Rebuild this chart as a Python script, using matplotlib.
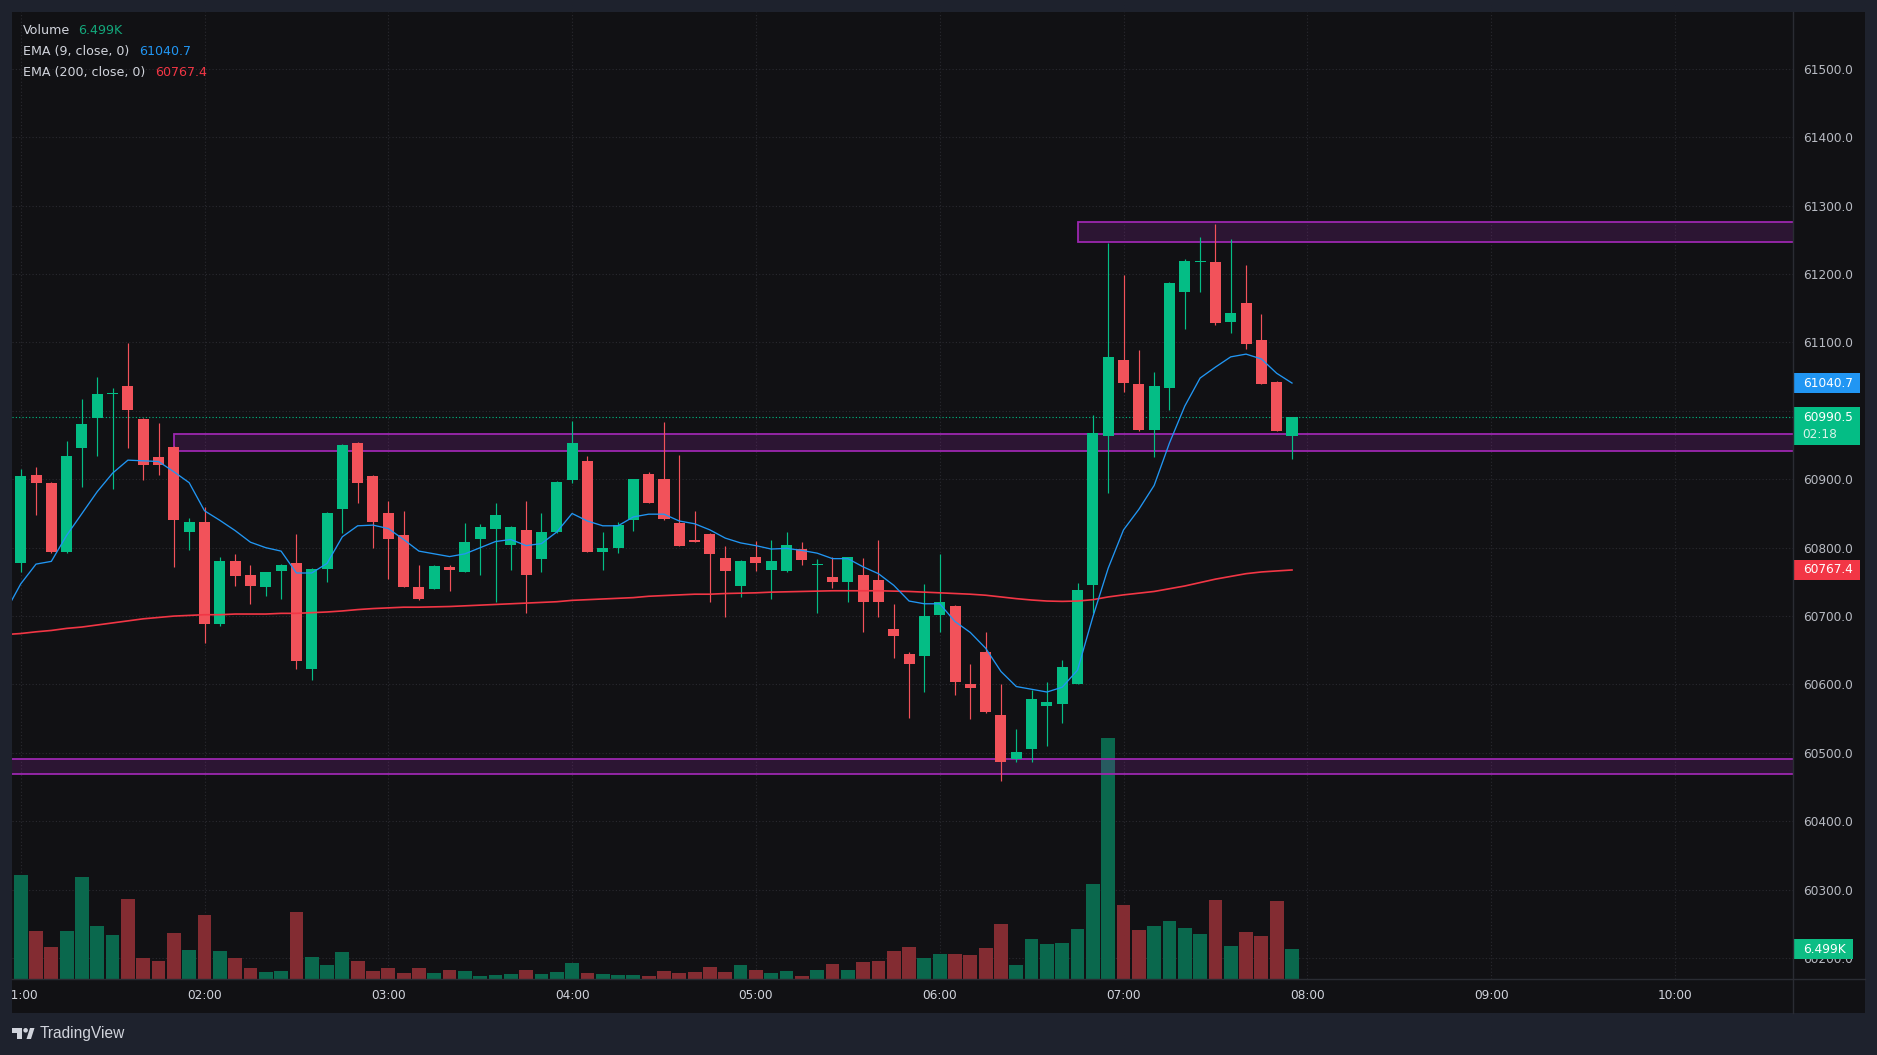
import matplotlib
matplotlib.use("Agg")
import matplotlib.pyplot as plt
import matplotlib.dates as mdates
import matplotlib.transforms as mtransforms
from matplotlib.patches import Rectangle, Polygon, Circle
from matplotlib.lines import Line2D
import pandas as pd

W, H = 1877, 1055

# ---- BTC 5m candles, 01:00 - 07:55 ------------------------------------------
session = "2024-03-06"
opens = [60777, 60906, 60895, 60794, 60946, 60989, 61024, 61036, 60988, 60933,
         60947, 60823, 60838, 60689, 60781, 60760, 60743, 60766, 60778, 60622,
         60769, 60857, 60953, 60905, 60851, 60819, 60743, 60740, 60772, 60765,
         60812, 60828, 60804, 60826, 60784, 60823, 60899, 60927, 60794, 60799,
         60841, 60908, 60900, 60836, 60811, 60820, 60785, 60744, 60786, 60768,
         60766, 60798, 60775, 60757, 60750, 60760, 60753, 60681, 60645, 60641,
         60701, 60715, 60601, 60648, 60555, 60491, 60505, 60569, 60571, 60601,
         60745, 60964, 61074, 61040, 60972, 61034, 61174, 61217, 61218, 61130,
         61158, 61104, 61042, 60964]
highs = [60915, 60918, 60896, 60956, 61018, 61050, 61034, 61099, 60989, 60982,
         60948, 60843, 60859, 60786, 60791, 60775, 60765, 60776, 60820, 60770,
         60852, 60951, 60954, 60906, 60868, 60854, 60775, 60774, 60774, 60836,
         60835, 60865, 60831, 60868, 60851, 60898, 60985, 60934, 60823, 60837,
         60901, 60910, 60984, 60936, 60854, 60822, 60802, 60782, 60810, 60811,
         60823, 60808, 60783, 60786, 60787, 60785, 60811, 60717, 60648, 60747,
         60791, 60716, 60630, 60677, 60601, 60535, 60592, 60604, 60636, 60748,
         60994, 61246, 61199, 61089, 61057, 61189, 61222, 61254, 61273, 61251,
         61213, 61142, 61044, 60991]
lows = [60765, 60848, 60792, 60792, 60888, 60934, 60886, 60946, 60899, 60907,
        60772, 60796, 60661, 60686, 60744, 60717, 60730, 60725, 60623, 60606,
        60750, 60822, 60866, 60800, 60754, 60742, 60724, 60739, 60736, 60764,
        60760, 60720, 60768, 60705, 60764, 60822, 60895, 60793, 60768, 60792,
        60825, 60865, 60841, 60802, 60808, 60720, 60698, 60728, 60766, 60725,
        60765, 60774, 60705, 60741, 60721, 60677, 60698, 60639, 60551, 60589,
        60676, 60585, 60550, 60559, 60459, 60486, 60486, 60510, 60543, 60600,
        60705, 60880, 61028, 60971, 60933, 61002, 61119, 61174, 61125, 61114,
        61091, 61039, 60970, 60930]
closes = [60905, 60894, 60794, 60934, 60981, 61025, 61025, 61002, 60921, 60921,
          60840, 60838, 60689, 60781, 60759, 60744, 60764, 60775, 60635, 60769,
          60851, 60950, 60894, 60838, 60813, 60743, 60725, 60773, 60768, 60808,
          60830, 60848, 60830, 60760, 60823, 60896, 60953, 60794, 60800, 60833,
          60900, 60866, 60842, 60803, 60809, 60791, 60766, 60781, 60777, 60781,
          60804, 60782, 60776, 60750, 60786, 60720, 60720, 60671, 60630, 60700,
          60720, 60604, 60595, 60560, 60486, 60501, 60579, 60574, 60626, 60738,
          60968, 61079, 61041, 60972, 61036, 61187, 61219, 61218, 61128, 61143,
          61098, 61040, 60971, 60990.5]
volumes_k = [22.5, 10.4, 6.9, 10.4, 22.1, 11.5, 9.5, 17.3, 4.5, 3.9,
             10.0, 6.3, 13.9, 6.1, 4.5, 2.4, 1.5, 1.7, 14.5, 4.8,
             3.0, 5.8, 3.9, 1.7, 2.4, 1.3, 2.4, 1.3, 1.9, 1.7,
             0.65, 0.9, 1.1, 1.9, 1.1, 1.5, 3.5, 1.3, 1.1, 0.9,
             0.9, 0.65, 1.7, 1.3, 1.5, 2.6, 1.5, 3.0, 1.9, 1.3,
             1.7, 0.65, 1.9, 3.2, 1.9, 3.7, 3.9, 6.1, 6.9, 4.5,
             5.4, 5.4, 5.2, 6.7, 11.9, 3.0, 8.7, 7.6, 7.8, 10.8,
             20.6, 52.3, 16.0, 10.6, 11.5, 12.6, 11.0, 9.7, 17.1, 7.1,
             10.2, 9.3, 16.9, 6.499]

# indicator values; first entry is the 00:55 bar just left of the window
ema9 = [60706,
        60747, 60776, 60780, 60818, 60850, 60882, 60909, 60928, 60927, 60926,
        60911, 60895, 60854, 60840, 60825, 60808, 60800, 60795, 60763, 60763,
        60777, 60816, 60832, 60833, 60828, 60812, 60795, 60791, 60787, 60791,
        60800, 60809, 60812, 60803, 60806, 60823, 60850, 60839, 60832, 60832,
        60845, 60849, 60849, 60839, 60835, 60826, 60814, 60807, 60803, 60798,
        60799, 60796, 60792, 60784, 60784, 60772, 60762, 60745, 60722, 60718,
        60718, 60692, 60676, 60653, 60619, 60597, 60593, 60589, 60596, 60621,
        60699, 60770, 60826, 60856, 60891, 60953, 61007, 61048, 61064, 61079,
        61083, 61076, 61055, 61040.7]
ema200 = [60673,
          60674.5, 60677, 60679, 60682, 60684, 60687, 60690, 60693, 60696, 60698,
          60700, 60701, 60702, 60702, 60703, 60703, 60703, 60704, 60704, 60705,
          60706, 60707.5, 60709.5, 60711, 60712, 60713, 60713, 60713.5, 60714, 60715,
          60716, 60717, 60718, 60719, 60720, 60721, 60723, 60724, 60725, 60726,
          60727, 60729, 60730, 60731, 60732, 60732, 60733, 60733.5, 60734, 60735,
          60735.5, 60736, 60736.5, 60737, 60737, 60737, 60737, 60736.5, 60736, 60735,
          60734, 60733, 60732, 60730.5, 60728, 60725.5, 60723.5, 60722, 60721.5, 60722,
          60724, 60728, 60731, 60733.5, 60736, 60740, 60744, 60749, 60754, 60758,
          60762, 60764.5, 60766, 60767.4]

# drawn support / resistance boxes
zone_start = ["06:45", "01:50", "00:00"]
zone_low = [61247, 60942, 60469]
zone_high = [61276.5, 60966, 60491.5]

price_ticks = list(range(60200, 61501, 100))
hour_labels = ["01:00", "02:00", "03:00", "04:00", "05:00",
               "06:00", "07:00", "08:00", "09:00", "10:00"]

# ---- colours -----------------------------------------------------------------
FRAME = "#1e222d"
BG = "#111114"
GRID = "#2a2a30"
SEP = "#2a2c33"
TXT = "#b8bbc3"
LEGEND = "#d1d4dc"
UP, DOWN = "#04bd85", "#f2525a"
VUP, VDOWN = "#0a684d", "#832c32"
BLUE, RED = "#2196f3", "#f23645"
ZONE = "#9c27b0"
FS = 8.7
FS_LEG = 9.1

plt.rcParams["font.family"] = ["DejaVu Sans"]

times = pd.date_range(f"{session} 01:00", periods=len(closes), freq="5min")
x = mdates.date2num(times)
step = x[1] - x[0]
x_ema = [x[0] - step] + list(x)
up = [c >= o for o, c in zip(opens, closes)]

fig = plt.figure(figsize=(W / 100, H / 100), dpi=100, facecolor=FRAME)
pix = mtransforms.Affine2D().scale(1 / W, -1 / H).translate(0, 1) + fig.transFigure

panel = Rectangle((12, 12), 1853, 1001, transform=pix, facecolor=BG,
                  edgecolor="none", zorder=-2)
fig.add_artist(panel)

ax_vol = fig.add_axes([12 / W, 1 - 979 / H, 1781 / W, 967 / H])
ax = ax_vol.twinx()
for a in (ax, ax_vol):
    a.set_facecolor("none")
    for s in a.spines.values():
        s.set_visible(False)

ax.set_xlim(x[0] - 0.568 * step, x[0] + 115.71 * step)
ax.set_ylim(60169.4, 61583.2)
ax_vol.set_ylim(0, 209.5)

# grid (kept on the lower axes so volume sits above it)
hour_x = mdates.date2num(pd.to_datetime([f"{session} {h}" for h in hour_labels]))
ax_vol.set_xticks(hour_x)
ax_vol.grid(axis="x", color=GRID, lw=0.8, ls=(0, (1, 2)))
ax_vol.tick_params(axis="x", length=0, labelbottom=False)
ax_vol.set_yticks([])
hz = mtransforms.blended_transform_factory(ax_vol.transAxes, ax.transData)
for p in price_ticks:
    ax_vol.add_line(Line2D([0, 1], [p, p], transform=hz, color=GRID, lw=0.8,
                           ls=(0, (1, 2))))

# volume
ax_vol.bar(x, volumes_k, width=0.9 * step,
           color=[VUP if u else VDOWN for u in up], linewidth=0, zorder=2)

# price axis labels; the one under the last-price tag stays blank
last = closes[-1]
ax.set_yticks(price_ticks)
ax.set_yticklabels(["" if abs(p - last) < 20 else f"{p:.1f}" for p in price_ticks])
ax.tick_params(axis="y", length=0, pad=7.2, labelsize=FS, labelcolor=TXT)
ax.tick_params(axis="x", length=0, bottom=False, labelbottom=False)

# zones
x_right = ax.get_xlim()[1] + step
for t0, lo, hi in zip(zone_start, zone_low, zone_high):
    xs = mdates.date2num(pd.Timestamp(f"{session} {t0}"))
    ax.add_patch(Rectangle((xs, lo), x_right - xs, hi - lo, facecolor=ZONE,
                           alpha=0.2, edgecolor="none", zorder=2))
    ax.add_patch(Rectangle((xs, lo), x_right - xs, hi - lo, facecolor="none",
                           edgecolor=ZONE, lw=1.3, zorder=2.1))

# last price line
ax.axhline(last, color=UP, lw=0.8, ls=(0, (1, 2)), zorder=2.5)

# candles
cols = [UP if u else DOWN for u in up]
ax.vlines(x, lows, highs, colors=cols, lw=0.85, zorder=3)
bodies = [max(abs(c - o), 1.5) for o, c in zip(opens, closes)]
ax.bar(x, bodies, bottom=[min(o, c) for o, c in zip(opens, closes)],
       width=0.72 * step, color=cols, linewidth=0, zorder=4)

# moving averages
ax.plot(x_ema, ema200, color=RED, lw=1.2, zorder=5)
ax.plot(x_ema, ema9, color=BLUE, lw=0.95, zorder=5)


def axis_tag(value, label, color, yaxis, up_px=10.4, down_px=10.4,
             right=1860, sub=None):
    tr = mtransforms.blended_transform_factory(ax.transAxes, yaxis.transData)
    ppu = yaxis.transData.transform((0, 1))[1] - yaxis.transData.transform((0, 0))[1]
    x0 = (1793 - 12) / 1781
    x1 = (right - 12) / 1781
    ax.add_patch(Rectangle((x0, value - down_px / ppu), x1 - x0,
                           (up_px + down_px) / ppu, transform=tr,
                           facecolor=color, edgecolor="none", clip_on=False,
                           zorder=10))
    xt = (1802.7 - 12) / 1781
    ax.text(xt, value, label, transform=tr, color="white", fontsize=FS,
            ha="left", va="center", zorder=11, clip_on=False)
    if sub:
        ax.text(xt, value - 17.1 / ppu, sub, transform=tr, color="#d6f3e8",
                fontsize=FS, ha="left", va="center", zorder=11, clip_on=False)


axis_tag(ema9[-1], f"{ema9[-1]:.1f}", BLUE, ax)
axis_tag(last, f"{last:.1f}", UP, ax, up_px=10.4, down_px=27.3, sub="02:18")
axis_tag(ema200[-1], f"{ema200[-1]:.1f}", RED, ax)
axis_tag(volumes_k[-1], f"{volumes_k[-1]:.3f}K", "#0dbd84", ax_vol, right=1853)

# time axis
tx = mtransforms.blended_transform_factory(ax.transData, pix)
for hx, lbl in zip(hour_x, hour_labels):
    t = ax.text(hx, 995.5, lbl, transform=tx, color=LEGEND, fontsize=FS,
                ha="center", va="center", clip_on=True)
    t.set_clip_path(panel)

# separators of price / time scales
fig.add_artist(Line2D([1793, 1793], [12, 1013], transform=pix, color=SEP, lw=1))
fig.add_artist(Line2D([12, 1865], [979, 979], transform=pix, color=SEP, lw=1))

# legend
fig.text(22.7, 30.7, "Volume", transform=pix, color=LEGEND, fontsize=FS_LEG, va="center")
fig.text(78.3, 30.7, f"{volumes_k[-1]:.3f}K", transform=pix, color="#13a97c",
         fontsize=FS_LEG, va="center")
fig.text(22.7, 51.7, "EMA (9, close, 0)", transform=pix, color=LEGEND,
         fontsize=FS_LEG, va="center")
fig.text(139.3, 51.7, f"{ema9[-1]:.1f}", transform=pix, color=BLUE,
         fontsize=FS_LEG, va="center")
fig.text(22.7, 72.3, "EMA (200, close, 0)", transform=pix, color=LEGEND,
         fontsize=FS_LEG, va="center")
fig.text(155, 72.3, f"{ema200[-1]:.1f}", transform=pix, color=RED,
         fontsize=FS_LEG, va="center")

# TradingView mark
fig.add_artist(Polygon([(12, 1028), (22.5, 1028), (22.5, 1039), (17.5, 1039),
                        (17.5, 1032.5), (12, 1032.5)], closed=True,
                       transform=pix, facecolor=LEGEND, edgecolor="none"))
fig.add_artist(Circle((25.6, 1030.3), 2.3, transform=pix, facecolor=LEGEND,
                      edgecolor="none"))
fig.add_artist(Polygon([(26.5, 1039), (31, 1039), (34.5, 1028), (30, 1028)],
                       closed=True, transform=pix, facecolor=LEGEND,
                       edgecolor="none"))
fig.text(39.5, 1033.5, "TradingView", transform=pix, color=LEGEND,
         fontsize=11.2, family="Liberation Sans", va="center")

fig.savefig("out.png", dpi=100, facecolor=FRAME)
